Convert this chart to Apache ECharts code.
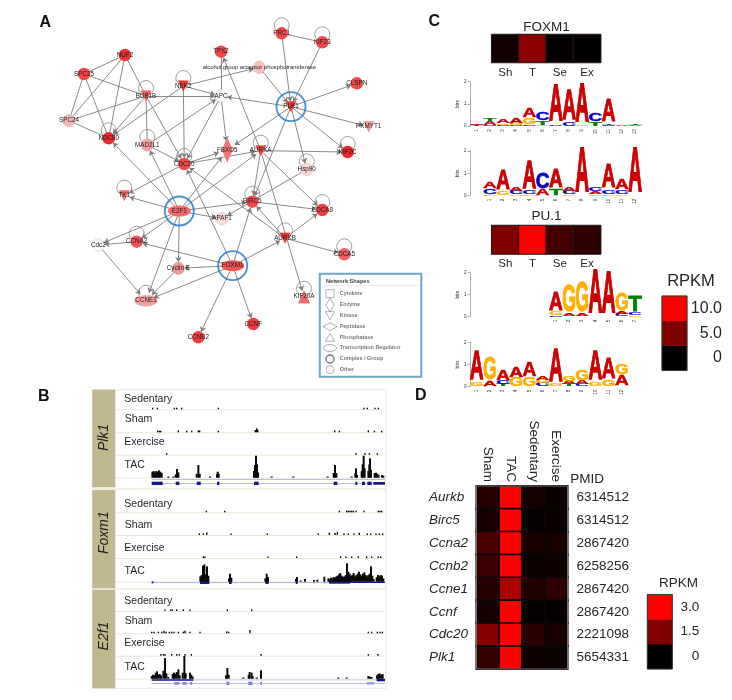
<!DOCTYPE html>
<html><head><meta charset="utf-8">
<style>html,body{margin:0;padding:0;background:#fff}#c{width:732px;height:700px;filter:blur(0.4px)}</style>
<script src="https://cdn.jsdelivr.net/npm/echarts@6/dist/echarts.min.js"></script>
</head><body><div id="c"></div>
<script>
/* ---------- Panel A: network ---------- */
const nodeNames=['PRC1','KIF23','NUF2','TPX2','SPC25','alcohol group acceptor phosphotransferase','CLSPN','NEK2','BUB1B','APC','PLK1','PKMYT1','SPC24','NDC80','MAD2L1','FBXO5','AURKA','KIF2C','CDC20','Hsp90','TK1','BIRC5','CDCA8','E2F1','APAF1','Cdc2','CCNA2','AURKB','CDCA5','FOXM1','Cyclin E','CCNE1','KIF20A','CCNF','CCNB2'];
const nodeX=[281.7,322.3,125,221,84,259.3,356.7,183.3,146,221,291,368.7,69,108.7,147.3,227.3,260.7,347.7,184.3,306.7,124.3,252.3,322.3,179.3,222,98.3,136.7,285,344.3,232.7,178.3,146,304,253.3,198.3];
const nodeY=[33.3,42.3,55,51.7,74,67.3,83.3,86,96,96,106.7,126.7,120.7,138.3,145,150,150.7,152,164,169.3,195.7,201.7,210,211,218.7,245,241.7,238.3,254.3,265.7,268.3,300.7,296.7,324,337.3];
const nodeExpr=[0.85,0.85,0.95,0.85,0.85,0.3,0.85,0.95,0.75,0.03,0.95,0.5,0.35,1,0.45,0.65,0.85,1,0.85,0.2,0.7,0.85,0.9,0.7,0.17,0.03,0.8,0.95,0.75,0.8,0.5,0.45,0.7,0.9,0.9];
const nodeKind=['o','o','o','o','o','o','o','k','k','o','k','k','o','o','o','e','k','o','o','o','k','o','o','t','o','o','o','k','o','t','o','t','p','o','o'];
const plainLinks=[['NUF2','SPC25'],['NUF2','SPC24'],['NUF2','NDC80'],['NUF2','BUB1B'],['SPC25','SPC24'],['SPC25','NDC80'],['SPC25','BUB1B'],['SPC24','BUB1B'],['SPC24','NDC80'],['PRC1','KIF23'],['BUB1B','MAD2L1'],['APC','TPX2']];
const arrowLinks=[['KIF23','PLK1'],['PRC1','PLK1'],['PLK1','CLSPN'],['PLK1','PKMYT1'],['PLK1','KIF2C'],['PLK1','Hsp90'],['PLK1','APC'],['PLK1','FBXO5'],['PLK1','BIRC5'],['alcohol group acceptor phosphotransferase','PLK1'],['NEK2','alcohol group acceptor phosphotransferase'],['NEK2','APC'],['BUB1B','APC'],['BUB1B','NDC80'],['NEK2','NDC80'],['NEK2','CDC20'],['BUB1B','CDC20'],['APC','CDC20'],['MAD2L1','APC'],['MAD2L1','CDC20'],['APC','FBXO5'],['CDC20','FBXO5'],['CDC20','AURKA'],['AURKA','KIF2C'],['AURKA','BIRC5'],['AURKA','CDCA8'],['AURKA','KIF20A'],['Hsp90','APAF1'],['AURKA','TPX2'],['E2F1','NDC80'],['E2F1','MAD2L1'],['E2F1','AURKA'],['E2F1','TK1'],['CDC20','TK1'],['E2F1','BIRC5'],['E2F1','APAF1'],['E2F1','Cdc2'],['E2F1','CCNA2'],['E2F1','Cyclin E'],['E2F1','CCNE1'],['E2F1','FBXO5'],['FOXM1','CDC20'],['FOXM1','BIRC5'],['FOXM1','AURKB'],['FOXM1','CCNA2'],['FOXM1','Cyclin E'],['FOXM1','CCNE1'],['FOXM1','CCNB2'],['FOXM1','CCNF'],['Cyclin E','CCNE1'],['Cdc2','CCNE1'],['CCNA2','Cdc2'],['AURKB','BIRC5'],['AURKB','CDCA8'],['AURKB','CDCA5'],['AURKB','CDC20'],['BIRC5','CDCA8']];
const loopNames=['PRC1','KIF23','NEK2','BUB1B','NDC80','MAD2L1','CDC20','AURKA','KIF2C','Hsp90','TK1','BIRC5','CDCA8','CCNA2','AURKB','CDCA5','KIF20A','CCNE1'];
const hubNames=['PLK1','E2F1','FOXM1'];
const shapeLegend=['Cytokine','Enzyme','Kinase','Peptidase','Phosphatase','Transcription Regulator','Complex / Group','Other'];
const shapeLegendX=[330,330,330,330,330,330,330,330];
const shapeLegendTextX=[339.5,339.5,339.5,339.5,339.5,339.5,339.5,339.5];
const shapeLegendY=[293.7,305,315.7,326.7,337.3,348,359,369.7];

/* ---------- Panel C ---------- */
const motifConditions=['Sh','T','Se','Ex'];
const foxm1Rpkm=[0.7,5.5,0.2,0.2];
const pu1Rpkm=[5,10,2.6,1.9];
const rpkmLevelsC=[0,5,10];
const rpkmLabelsC=['0','5.0','10.0'];
const logoFoxA=[[['T',.03],['C',.03],['A',.07]],[['C',.05],['A',.17],['T',.14]],[['C',.05],['G',.08],['A',.2]],[['C',.03],['G',.1],['A',.25]],[['C',.05],['G',.3],['A',.4]],[['G',.05],['T',.2],['C',.35]],[['C',.08],['A',1.62]],[['C',.15],['A',1.35]],[['G',.03],['A',1.75]],[['T',.2],['C',.33]],[['C',.07],['T',.03],['A',1]],[['A',.03]],[['A',.05],['T',.05]]];
const logoFoxB=[[],[['G',.05],['C',.25],['A',.32]],[['G',.2],['A',.9]],[['G',.05],['C',.15],['A',.15]],[['G',.05],['C',.15],['A',1.25]],[['A',.28],['C',.7]],[['T',.3],['A',.85]],[['G',.05],['C',.15],['A',.15]],[['A',2]],[['G',.05],['A',.13],['C',.15]],[['G',.05],['C',.2],['A',1.05]],[['G',.05],['C',.2],['A',.45]],[['A',2]]];
const logoPuA=[[],[],[],[],[],[],[['C',.05],['G',.15],['A',.85]],[['A',.12],['G',1.2]],[['A',.1],['G',1.4]],[['A',2]],[['A',1.85]],[['C',.1],['A',.1],['G',.75]],[['G',.05],['C',.12],['T',.7]]];
const logoPuB=[[['G',.2],['A',1.3]],[['A',.25],['G',1]],[['T',.1],['C',.15],['A',.5]],[['G',.4],['A',.5]],[['G',.4],['A',.65]],[['C',.15],['G',.15],['A',.2]],[['G',.1],['A',1.5]],[['T',.1],['A',.15],['G',.25]],[['C',.1],['A',.15],['G',.5]],[['G',.2],['A',1.3]],[['G',.3],['A',.95]],[['A',.5],['G',.45]],[]];
const logoTicksFoxA=['1','2','3','4','5','6','7','8','9','10','11','12','13'];
const logoTicksFoxB=['','1','2','3','4','5','6','7','8','9','10','11','12'];
const logoTicksPuA=['','','','','','','1','2','3','4','5','6','7'];
const logoTicksPuB=['1','2','3','4','5','6','7','8','9','10','11','12',''];

/* ---------- Panel D ---------- */
const geneRows=['Aurkb','Birc5','Ccna2','Ccnb2','Ccne1','Ccnf','Cdc20','Plk1'];
const pmids=['6314512','6314512','2867420','6258256','2867420','2867420','2221098','5654331'];
const heatConditions=['Sham','TAC','Sedentary','Exercise'];
const shamRpkm=[0.45,0.28,0.85,0.7,0.45,0.25,1.6,0.6];
const tacRpkm=[3,3,3,3,2.05,3,3,3];
const sedentaryRpkm=[0.22,0.05,0.3,0.15,0.4,0.05,0.5,0.2];
const exerciseRpkm=[0.1,0.1,0.3,0.2,0.55,0.08,0.3,0.15];
const rpkmLevelsD=[0,1.5,3];
const rpkmLabelsD=['0','1.5','3.0'];

/* ---------- Panel B: read-density tracks [position, height] ---------- */
const trackNames=['Sedentary','Sham','Exercise','TAC'];
const geneNamesB=['Plk1','Foxm1','E2f1'];
const plk1Sed=[[368,2],[382,2],[433,2],[440,2],[455,2],[565,2],[1002,2],[1012,2],[1035,2],[1045,2]];
const plk1Sham=[[383,3],[388,3],[392,3],[445,6],[470,2],[485,2],[505,6],[509,5],[565,3],[676,7],[680,12],[683,8],[914,6],[928,3],[1015,6],[1033,4],[1055,4]];
const plk1Ex=[[410,2],[978,2],[1005,2],[1018,2],[1042,2]];
const plk1Tac=[[367,18],[371,20],[375,16],[379,20],[383,18],[387,22],[391,18],[395,14],[415,3],[430,3],[437,10],[441,26],[445,16],[500,12],[505,38],[509,12],[540,3],[561,10],[563,18],[566,12],[672,20],[675,38],[678,66],[681,40],[684,16],[725,3],[790,3],[893,3],[911,14],[915,38],[919,14],[965,3],[976,12],[978,28],[981,8],[995,20],[998,40],[1001,66],[1004,28],[1015,20],[1018,40],[1020,58],[1023,24],[1034,14],[1038,15],[1042,12],[1046,8],[1056,8],[1060,6]];
const foxSed=[[529,2],[584,2],[928,2],[950,2],[955,2],[960,2],[965,2],[970,2],[978,2],[1002,2],[1045,2],[1050,2],[1055,2]];
const foxSham=[[508,2],[520,2],[530,8],[603,3],[712,2],[865,2],[898,7],[915,6],[922,9],[942,3],[955,3],[972,3],[988,7],[1012,2],[1022,2],[1038,4],[1048,3],[1058,2]];
const foxEx=[[520,4],[525,3],[714,3],[800,3],[932,2],[948,2],[965,3],[985,5],[1010,4],[1025,3],[1045,2],[1052,2]];
const foxTac=[[511,16],[515,20],[519,48],[523,52],[527,22],[531,46],[535,18],[597,10],[600,24],[604,12],[706,10],[710,24],[714,14],[798,8],[801,14],[812,3],[825,8],[852,5],[862,6],[883,15],[895,10],[899,8],[903,12],[907,10],[911,14],[915,12],[919,16],[923,18],[927,22],[931,26],[935,18],[939,14],[943,16],[947,20],[951,55],[955,30],[959,24],[963,18],[967,20],[971,26],[975,16],[979,20],[983,24],[987,30],[991,22],[995,18],[999,24],[1003,28],[1007,20],[1011,16],[1015,20],[1019,24],[1023,46],[1027,18],[1031,8],[1040,14],[1044,20],[1048,16],[1052,20],[1056,18],[1060,10]];
const e2fSed=[[405,3],[422,4],[427,3],[440,2],[460,5],[480,2],[592,2],[665,2]];
const e2fSham=[[365,3],[372,2],[385,3],[395,3],[402,7],[408,5],[418,4],[425,2],[432,2],[445,2],[460,5],[465,8],[480,4],[510,2],[590,6],[596,2],[660,10],[1015,3],[1025,2],[1042,2],[1050,2],[1057,3]];
const e2fEx=[[392,2],[400,4],[405,5],[425,2],[440,2],[448,2],[465,3],[484,2],[693,2],[1015,2],[1044,2]];
const e2fTac=[[365,8],[369,12],[373,10],[377,18],[381,22],[385,12],[389,14],[393,10],[400,24],[405,62],[409,16],[415,5],[428,14],[432,18],[436,14],[440,20],[445,28],[449,10],[458,18],[463,68],[467,16],[480,18],[484,12],[488,6],[588,10],[592,32],[596,12],[640,3],[656,12],[659,20],[665,18],[668,8],[680,3],[693,25],[925,3],[950,3],[1015,8],[1020,6],[1025,5],[1041,10],[1045,14],[1049,16],[1053,12],[1058,14]];
/* gene models: [start, end, level, thickness, colour index] */
const plk1Model=[[365,1065,-5,1.6,0],[365,1065,-17,1.6,0],[365,398,-17,10,1],[437,448,-17,10,1],[500,512,-17,10,1],[561,568,-17,10,1],[672,686,-17,10,1],[911,922,-17,10,1],[976,982,-17,10,1],[996,1005,-17,10,1],[1012,1025,-17,10,1],[1030,1065,-17,8,1]];
const foxModel=[[365,1065,-2,1.6,0],[365,370,-2,6,1],[510,538,-2,10,1],[597,605,-2,10,1],[706,716,-2,10,1],[797,803,-2,10,1],[850,853,-2,8,0],[882,886,-2,8,0],[897,960,-2,8,1],[960,1065,-2,4,1]];
const e2fModel=[[365,1065,-4,1.6,0],[365,490,-4,5,1],[1040,1065,-4,8,1],[433,448,-14,8,2],[458,470,-14,8,2],[480,487,-14,8,2],[589,598,-14,10,2],[655,667,-14,10,2],[691,696,-14,10,2],[1010,1033,-14,6,2],[365,1065,-14,1.6,0]];

const trackSets=[[plk1Sed,plk1Sham,plk1Ex,plk1Tac],[foxSed,foxSham,foxEx,foxTac],[e2fSed,e2fSham,e2fEx,e2fTac]];
const geneModels=[plk1Model,foxModel,e2fModel];

/* ---------- layout & styling ---------- */
const FF='"Liberation Sans",Arial,sans-serif';
const baselines=[[409.3,432.3,454.7,477.7],[512.3,535,558,581.7],[611,633.3,655.7,678.7]];
const labelYs=[[398.7,419,441.7,465],[504,525,547.7,571],[600.7,621,643,666.7]];
const panels=[[389.7,487.3],[490,588.3],[589.7,688.3]];
const geneColours=['#a3a3e6','#16168c','#7070e4'];
const ink='#262626';
const letterColours={A:'#cc0000',C:'#0000cc',G:'#ffb000',T:'#008000'};
const letterWidth={A:.722,C:.722,G:.778,T:.611};

function nodeColour(v){const a=[255,255,255],b=[240,40,40];return 'rgb('+a.map((c,i)=>Math.round(c+(b[i]-c)*v)).join(',')+')'}
const ELL='path://M0 50A50 50 0 1 1 100 50A50 50 0 1 1 0 50Z';
const DOWN='path://M0 0L100 0L50 100Z',UP='path://M50 0L100 100L0 100Z',DIA='path://M50 0L100 50L50 100L0 50Z';
const kindStyle={o:{symbol:'circle',symbolSize:12.5},k:{symbol:DOWN,symbolSize:[11,11]},e:{symbol:DIA,symbolSize:[11,25]},t:{symbol:ELL,symbolSize:[23,11]},p:{symbol:UP,symbolSize:[12,13]}};

const grid=[],xAxis=[],yAxis=[],series=[],graphic=[];
function txt(text,x,y,font,o){graphic.push({type:'text',x,y,z:20,silent:true,rotation:(o&&o.rot)||0,style:{text,font,fill:(o&&o.fill)||ink,align:(o&&o.align)||'left',verticalAlign:'middle'}})}
function addGrid(l,t,w,h,xa,ya){const i=grid.length;grid.push({left:l,top:t,width:w,height:h});xAxis.push(Object.assign({gridIndex:i},xa));yAxis.push(Object.assign({gridIndex:i},ya));return i}

/* overlay grid in page units for the network */
const g0=addGrid(0,0,732,700,{type:'value',min:0,max:732,show:false},{type:'value',min:0,max:700,inverse:true,show:false});
const idx=n=>nodeNames.indexOf(n);
series.push({type:'scatter',xAxisIndex:g0,yAxisIndex:g0,z:1,silent:true,symbolSize:15,
  itemStyle:{color:'rgba(0,0,0,0)',borderColor:'#7a7a7a',borderWidth:.9},
  data:loopNames.map(n=>[nodeX[idx(n)],nodeY[idx(n)]-8])});
series.push({type:'graph',coordinateSystem:'cartesian2d',xAxisIndex:g0,yAxisIndex:g0,z:2,silent:true,
  edgeSymbol:['none','arrow'],edgeSymbolSize:5,
  lineStyle:{color:'#7d7d7d',width:.9,opacity:1},
  label:{show:true,position:'inside',fontFamily:FF,fontSize:6.3,color:'#1c1c1c'},
  data:nodeNames.map((n,i)=>{const k=kindStyle[nodeKind[i]];return Object.assign({name:n,value:[nodeX[i],nodeY[i]],itemStyle:{color:nodeColour(nodeExpr[i]),borderColor:nodeExpr[i]<.6?'#bbb':'rgba(0,0,0,0)',borderWidth:.5}},k,n.length>12?{label:{fontSize:5.9}}:{})}),
  links:plainLinks.map(l=>({source:l[0],target:l[1],symbol:['none','none']})).concat(arrowLinks.map(l=>({source:l[0],target:l[1]})))});
series.push({type:'scatter',xAxisIndex:g0,yAxisIndex:g0,z:3,silent:true,symbolSize:29,
  itemStyle:{color:'rgba(0,0,0,0)',borderColor:'#1a76c6',borderWidth:1.8},
  data:hubNames.map(n=>[nodeX[idx(n)],nodeY[idx(n)]])});
const legendSymbols=[['rect',[8,8]],[DIA,[8,14]],[DOWN,[9,8]],[DIA,[14,8]],[UP,[9,8]],[ELL,[13,7]],['circle',[8,8]],['circle',[8,8]]];
series.push({type:'scatter',xAxisIndex:g0,yAxisIndex:g0,z:5,silent:true,
  itemStyle:{color:'#fff',borderColor:'#777',borderWidth:.7},
  data:shapeLegend.map((n,i)=>({name:n,value:[shapeLegendX[i],shapeLegendY[i]],symbol:legendSymbols[i][0],symbolSize:legendSymbols[i][1],itemStyle:i===6?{borderWidth:1.4,borderColor:'#555'}:undefined}))});
series.push({type:'scatter',xAxisIndex:g0,yAxisIndex:g0,z:5,silent:true,symbolSize:.5,itemStyle:{color:'rgba(255,255,255,0)'},
  label:{show:true,position:'right',distance:0,fontFamily:FF,fontSize:5.4,fontWeight:'bold',color:'#555',formatter:p=>p.name},
  data:shapeLegend.map((n,i)=>({name:n,value:[shapeLegendTextX[i],shapeLegendY[i]]}))});
graphic.push({type:'rect',z:1,silent:true,shape:{x:319.8,y:273.8,width:101.5,height:103},style:{fill:'#fff',stroke:'#6fa6c6',lineWidth:2}});
graphic.push({type:'line',z:1,silent:true,shape:{x1:324,y1:285.5,x2:419,y2:285.5},style:{stroke:'#ddd',lineWidth:.6}});
txt('Network Shapes',326,281.5,'bold 5.6px '+FF,{fill:'#444'});

/* panel letters */
txt('A',39.5,22.5,'bold 16px '+FF,{fill:'#111'});
txt('C',428.5,22,'bold 16px '+FF,{fill:'#111'});
txt('B',38,397,'bold 16px '+FF,{fill:'#111'});
txt('D',415,396,'bold 16px '+FF,{fill:'#111'});

/* heat strips */
const hiddenCat=d=>({type:'category',data:d,show:false});
function motifStrip(values,top,h,title,titleY){
  const g=addGrid(491.7,top,109,h,{type:'category',data:motifConditions,axisLine:{show:false},axisTick:{show:false},axisLabel:{fontFamily:FF,fontSize:11.5,color:ink,margin:4}},hiddenCat(['']));
  series.push({type:'heatmap',xAxisIndex:g,yAxisIndex:g,silent:true,itemStyle:{borderColor:'#1a1a1a',borderWidth:1},data:values.map((v,i)=>[i,0,v])});
  txt(title,546.5,titleY,'13.5px '+FF,{align:'center'});
  return series.length-1;
}
const heatC=[];
heatC.push(motifStrip(foxm1Rpkm,34.5,28,'FOXM1',27));
heatC.push(motifStrip(pu1Rpkm,225.5,28.5,'PU.1',216.5));

/* sequence logos */
function logo(stacks,ticks,top,h){
  const g=addGrid(470,top,171.6,h,
    {type:'category',data:ticks,axisLine:{show:false},axisTick:{show:false},axisLabel:{interval:0,fontFamily:FF,fontSize:4.6,color:'#333',rotate:90,margin:3}},
    {type:'value',min:0,max:2,interval:1,name:'bits',nameLocation:'middle',nameGap:8,nameTextStyle:{fontFamily:FF,fontSize:5,color:'#333'},
     splitLine:{show:false},axisLine:{show:true,lineStyle:{color:'#999',width:.8}},axisTick:{show:true,length:2.5,lineStyle:{color:'#999',width:.8}},axisLabel:{fontFamily:FF,fontSize:4.6,color:'#333',margin:3.5}});
  const rows=[];
  stacks.forEach((col,i)=>{let b=0;col.forEach(([L,v])=>{rows.push([i,b,v,'ACGT'.indexOf(L)]);b+=v})});
  series.push({type:'custom',xAxisIndex:g,yAxisIndex:g,silent:true,clip:false,z:3,data:rows,encode:{x:0,y:1},
    renderItem(p,api){
      const L='ACGT'[api.value(3)],top=api.coord([api.value(0),api.value(1)+api.value(2)]),bot=api.coord([api.value(0),api.value(1)]);
      const hh=Math.max(bot[1]-top[1],.5),w=api.size([1,0])[0]*1.04,F=20;
      return {type:'text',x:bot[0],y:(top[1]+bot[1])/2,scaleX:w/(letterWidth[L]*F),scaleY:hh/(.716*F),
        style:{text:L,font:'bold '+F+'px '+FF,fill:letterColours[L],stroke:letterColours[L],lineWidth:.7,align:'center',verticalAlign:'middle'}};
    }});
}
logo(logoFoxA,logoTicksFoxA,81.7,44.5);
logo(logoFoxB,logoTicksFoxB,151,44.7);
logo(logoPuA,logoTicksPuA,272.7,44);
logo(logoPuB,logoTicksPuB,342.3,44.4);

/* colour keys */
function key(levels,labels,l,t,w,h,mar,fs){
  const g=addGrid(l,t,w,h,hiddenCat(['']),{type:'category',data:labels,position:'right',axisLine:{show:false},axisTick:{show:false},axisLabel:{fontFamily:FF,fontSize:fs,color:ink,align:'right',margin:mar}});
  series.push({type:'heatmap',xAxisIndex:g,yAxisIndex:g,silent:true,itemStyle:{borderWidth:0},data:levels.map((v,i)=>[0,i,v])});
  graphic.push({type:'rect',z:15,silent:true,shape:{x:l,y:t,width:w,height:h},style:{fill:'none',stroke:'#2b3d2b',lineWidth:1}});
  return series.length-1;
}
heatC.push(key(rpkmLevelsC,rpkmLabelsC,662,296,25,74.5,35,16));
txt('RPKM',691,281,'16.5px '+FF,{align:'center'});

/* panel D heatmap */
const gD=addGrid(476.5,486,91,183,
  {type:'category',position:'top',data:heatConditions,axisLine:{show:false},axisTick:{show:false},axisLabel:{interval:0,rotate:90,fontFamily:FF,fontSize:13.5,color:ink,margin:4}},
  {type:'category',inverse:true,data:geneRows,axisLine:{show:false},axisTick:{show:false},axisLabel:{interval:0,fontFamily:FF,fontStyle:'italic',fontSize:13.5,color:ink,align:'left',margin:47.5}});
const heatD=[];
series.push({type:'heatmap',xAxisIndex:gD,yAxisIndex:gD,silent:true,itemStyle:{borderColor:'#070707',borderWidth:1.6},
  data:[shamRpkm,tacRpkm,sedentaryRpkm,exerciseRpkm].flatMap((c,x)=>c.map((v,y)=>[x,y,v]))});
heatD.push(series.length-1);
graphic.push({type:'rect',z:15,silent:true,shape:{x:476.5,y:486,width:91,height:183},style:{fill:'none',stroke:'#707070',lineWidth:1}});
txt('PMID',587,479,'13.5px '+FF,{align:'center'});
heatD.push(key(rpkmLevelsD,rpkmLabelsD,647.3,594.5,25,74.5,27,13.5));
txt('RPKM',678.5,583,'13.5px '+FF,{align:'center'});

/* panel B */
graphic.push({type:'rect',z:0,silent:true,shape:{x:92.5,y:389.7,width:293.5,height:298.6},style:{fill:'#fff',stroke:'#ece9da',lineWidth:1}});
panels.forEach((p,i)=>{
  graphic.push({type:'rect',z:1,silent:true,shape:{x:92.3,y:p[0],width:23,height:p[1]-p[0]},style:{fill:'#c2b88f'}});
  if(i>0)graphic.push({type:'rect',z:0,silent:true,shape:{x:92.3,y:p[0]-2,width:294,height:2},style:{fill:'#f1efe4'}});
  txt(geneNamesB[i],104.5,(p[0]+p[1])/2-.5+[-.5,-6,-2.5][i],'italic 14px '+FF,{rot:Math.PI/2,align:'center',fill:'#222'});
  baselines[i].forEach((b,j)=>{
    graphic.push({type:'line',z:1,silent:true,shape:{x1:115.3,y1:b+.5,x2:385.5,y2:b+.5},style:{stroke:'#e9e6d6',lineWidth:1}});
    txt(trackNames[j],124.3+[0,.5,0,.2][j],labelYs[i][j],'10.5px '+FF);
    const tac=j===3,ymax=tac?72:60,ymin=tac?-22:0;
    const g=addGrid(151.7,b-ymax/3,233.3,(ymax-ymin)/3,{type:'value',min:365,max:1065,show:false},{type:'value',min:ymin,max:ymax,show:false});
    series.push({type:'bar',xAxisIndex:g,yAxisIndex:g,silent:true,barWidth:tac?2:1.4,barMinHeight:tac?1.2:1.6,itemStyle:{color:'#0a0a0a'},data:trackSets[i][j]});
    if(tac)series.push({type:'custom',xAxisIndex:g,yAxisIndex:g,silent:true,clip:false,data:geneModels[i],encode:{x:0,y:2},
      renderItem(pp,api){
        const a=api.coord([api.value(0),api.value(2)]),c=api.coord([api.value(1),api.value(2)]),h=api.size([0,api.value(3)])[1];
        return {type:'rect',shape:{x:a[0],y:a[1]-h/2,width:c[0]-a[0],height:h},style:{fill:geneColours[api.value(4)]}};
      }});
  });
});

/* the PMID column is a second y axis on panel D's grid; it goes last so each grid keeps matching axis indices */
yAxis.push({gridIndex:gD,type:'category',inverse:true,position:'right',data:pmids,axisLine:{show:false},axisTick:{show:false},axisLabel:{interval:0,fontFamily:FF,fontSize:13.5,color:ink,margin:9}});

const chart=echarts.init(document.getElementById('c'),null,{width:732,height:700});
chart.setOption({animation:false,backgroundColor:'#fff',grid,xAxis,yAxis,series,graphic:{elements:graphic},
  visualMap:[
   {type:'continuous',show:false,min:0,max:10,dimension:2,seriesIndex:[heatC[0],heatC[1]],inRange:{color:['#000000','#ff0000']}},
   {type:'continuous',show:false,min:0,max:10,dimension:2,seriesIndex:[heatC[2]],inRange:{color:['#000000','#ff0000']}},
   {type:'continuous',show:false,min:0,max:3,dimension:2,seriesIndex:heatD,inRange:{color:['#000000','#ff0000']}}
  ]});
</script></body></html>
